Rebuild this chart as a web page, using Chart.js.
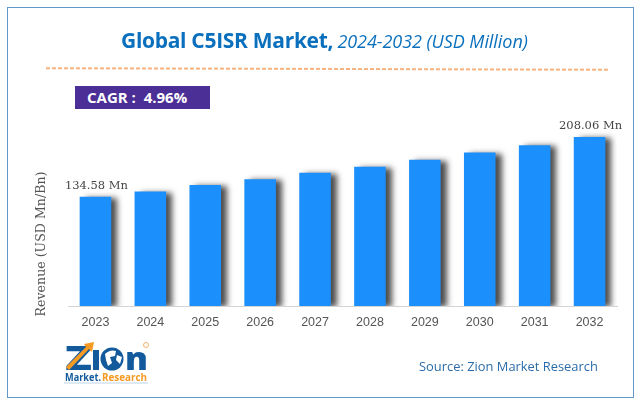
<!DOCTYPE html>
<html>
<head>
<meta charset="utf-8">
<script src="https://cdn.jsdelivr.net/npm/chart.js@4"></script>
<style>
    html, body { margin: 0; padding: 0; background: #fff; }
    #wrap { position: relative; width: 640px; height: 405px; overflow: hidden; }
    #frame { position: absolute; left: 7px; top: 7px; width: 625px; height: 389px; border: 1px solid #5f98c9; }
    #title { position: absolute; left: 121px; top: 25px; white-space: nowrap; color: #0a70bd; font-family: "Open Sans", sans-serif; font-size: 21px; line-height: 30px; letter-spacing: -0.3px; }
    #title b { font-weight: 700; }
    #title i { font-size: 18px; letter-spacing: -0.05px; margin-left: -1px; }
    #rule { position: absolute; left: 46px; top: 68px; width: 564px; height: 2px; background: repeating-linear-gradient(90deg, #f8b27e 0 4px, #fff 4px 6px); transform: rotate(0.15deg); }
    #cagr { position: absolute; left: 75px; top: 86px; width: 135px; height: 23px; background: #4b2e96; color: #fff; font-family: "Open Sans", sans-serif; font-weight: 700; font-size: 15px; line-height: 23px; text-indent: 12px; white-space: pre; }
    #source { position: absolute; left: 419px; top: 357px; color: #2b6ca8; font-family: "Open Sans", sans-serif; font-size: 12.9px; line-height: 18px; white-space: nowrap; }
    #ytitle { position: absolute; left: 40px; top: 244px; transform: translate(-50%, -50%) rotate(-90deg); color: #555; font-family: "DejaVu Serif", serif; font-size: 12.6px; line-height: 15px; white-space: nowrap; }
    #logo { position: absolute; left: 60px; top: 340px; }
    canvas { position: absolute; left: 0; top: 0; }
</style>
</head>
<body>
<div id="wrap">
    <canvas id="barChart" width="640" height="405"></canvas>
    <div id="frame"></div>
    <div id="title"><b>Global C5ISR Market,</b> <i>2024-2032 (USD Million)</i></div>
    <div id="rule"></div>
    <div id="cagr">CAGR :  4.96%</div>
    <div id="ytitle">Revenue (USD Mn/Bn)</div>
    <div id="source">Source: Zion Market Research</div>
    <svg id="logo" width="95" height="46" viewBox="0 0 95 46">
        <text x="5" y="30" font-family="Open Sans" font-weight="800" font-size="33" fill="#125a9c" textLength="27" lengthAdjust="spacingAndGlyphs">Z</text>
        <path d="M6 27 L26 7 L24 4 L34 2 L32 12 L29 9 L9 30 Z" fill="#f59a23"/>
        <rect x="33" y="10" width="6" height="20" fill="#125a9c"/>
        <circle cx="52" cy="19" r="11.5" fill="#125a9c"/>
        <path d="M45 14 Q50 9 56 11 L55 16 L50 17 L52 23 L48 26 L46 20 Z M57 15 L62 17 L60 24 L56 20 Z" fill="#fff"/>
        <text x="65" y="30" font-family="Open Sans" font-weight="800" font-size="31" fill="#125a9c" textLength="23" lengthAdjust="spacingAndGlyphs">n</text>
        <circle cx="86" cy="5" r="2.5" fill="none" stroke="#f5b26b" stroke-width="1"/>
        <text x="5" y="41" font-family="Open Sans" font-weight="700" font-size="10.5" fill="#125a9c" textLength="36" lengthAdjust="spacingAndGlyphs">Market.</text>
        <text x="42" y="41" font-family="Open Sans" font-weight="700" font-size="10.5" fill="#f59a23" textLength="45" lengthAdjust="spacingAndGlyphs">Research</text>
        <rect x="4" y="42.5" width="84" height="1" fill="#bcd6ee"/>
    </svg>
</div>
<script>
const years = ['2023', '2024', '2025', '2026', '2027', '2028', '2029', '2030', '2031', '2032'];
const revenue = [134.58, 141, 149, 156, 164, 171.5, 180, 189, 198, 208.06];
const valueLabels = ['134.58 Mn', '', '', '', '', '', '', '', '', '208.06 Mn'];

// soft shadow to the right of the bars, and the two value labels
const barDecor = {
    id: 'barDecor',
    beforeDatasetDraw(chart) {
        const c = chart.ctx;
        c.save();
        c.shadowColor = 'rgba(0,0,0,0.7)';
        c.shadowBlur = 6;
        c.shadowOffsetX = 6;
        c.shadowOffsetY = 1;
    },
    afterDatasetDraw(chart) {
        const c = chart.ctx;
        c.restore();
        c.save();
        c.font = '11.5px "DejaVu Serif", serif';
        c.fillStyle = '#444';
        c.textAlign = 'center';
        c.textBaseline = 'bottom';
        chart.getDatasetMeta(0).data.forEach((bar, i) => {
            if (valueLabels[i]) c.fillText(valueLabels[i], bar.x + 1, bar.y - 5);
        });
        c.restore();
    }
};

new Chart(document.getElementById('barChart').getContext('2d'), {
    type: 'bar',
    data: {
        labels: years,
        datasets: [{
            data: revenue,
            backgroundColor: '#1b8ffb',
            categoryPercentage: 1,
            barPercentage: 0.575
        }]
    },
    options: {
        responsive: false,
        animation: false,
        layout: { padding: { top: 103, right: 23, left: 68, bottom: 0 } },
        plugins: { legend: { display: false }, tooltip: { enabled: false } },
        scales: {
            x: {
                grid: { display: false },
                border: { color: '#d4d4d4', width: 1 },
                ticks: { color: '#555', font: { family: 'Liberation Sans', size: 12.5 }, padding: 1, maxRotation: 0 },
                afterFit(scale) { scale.height = 99; }
            },
            y: {
                display: false,
                min: 0,
                max: 250
            }
        }
    },
    plugins: [barDecor]
});
</script>
</body>
</html>
